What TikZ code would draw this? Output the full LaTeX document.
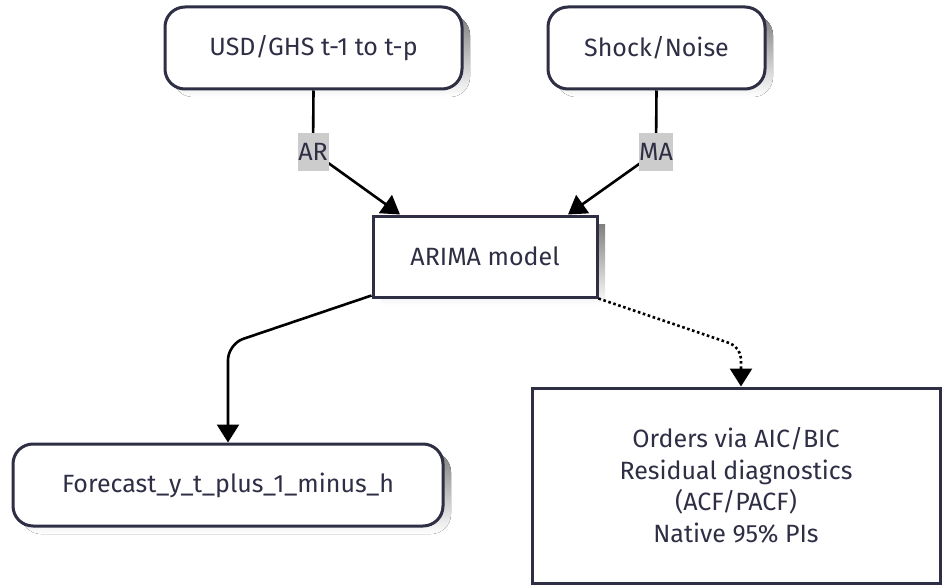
\documentclass[tikz,border=0pt]{standalone}
\usepackage{fontspec}
\setmainfont{Fira Sans}
\usetikzlibrary{arrows.meta}
\definecolor{ink}{HTML}{2E2E45}
\definecolor{shade}{HTML}{EBEBEB}
\definecolor{tag}{HTML}{CCCCCC}
\tikzset{
  base/.style={draw=ink, line width=3pt, fill=white, text=ink,
    font=\fontsize{25}{31.5}\selectfont, align=center, inner sep=0pt},
  roundbox/.style={base, rounded corners=20pt},
  sharpbox/.style={base},
  tagbox/.style={fill=tag, text=ink, font=\fontsize{25}{28}\selectfont,
    inner sep=0pt, minimum width=31pt, minimum height=38pt},
  link/.style={line width=2.6pt, draw=black,
    -{Triangle[length=18pt,width=22pt]}},
  dotlink/.style={link, dash pattern=on 2.6pt off 2.6pt}
}
\begin{document}
\begin{tikzpicture}[x=1pt,y=-1pt]
\useasboundingbox (0,0) rectangle (943,586);

% soft drop shadows behind the boxes
\fill[shade, rounded corners=20pt] (173,15) rectangle (470,97);
\fill[shade, rounded corners=20pt] (556,15) rectangle (773,97);
\fill[shade] (381,224) rectangle (605,305);
\fill[shade, rounded corners=20pt] (21,452) rectangle (451,534);

% source nodes
\node[roundbox, minimum width=297pt, minimum height=82pt] (lags) at (313.5,48) {USD/GHS t-1 to t-p};
\node[roundbox, minimum width=217pt, minimum height=82pt] (shock) at (656.5,48) {Shock/Noise};

% model
\node[sharpbox, minimum width=224pt, minimum height=81pt] (arima) at (485,256.5) {ARIMA model};

% outputs
\node[roundbox, minimum width=430pt, minimum height=82pt] (fc) at (228,485) {Forecast\_y\_t\_plus\_1\_minus\_h};
\node[sharpbox, minimum width=408pt, minimum height=195pt] (diag) at (736,485.5)
  {Orders via AIC/BIC\\Residual diagnostics\\(ACF/PACF)\\Native 95\% PIs};

% bend points of the connectors
\coordinate (arbend) at (313,152);
\coordinate (mabend) at (656,152);
\coordinate (fcbend) at (228,344);
\coordinate (dgbend) at (741,347);

% AR and MA edges
\draw[link] (lags.south) -- (arbend) -- ([xshift=-85pt]arima.north);
\draw[link] (shock.south) -- (mabend) -- ([xshift=83pt]arima.north);
\node[tagbox] (ar) at (arbend) {AR};
\node[tagbox] (ma) at (mabend) {MA};

% forecast edge
\draw[link, rounded corners=16pt] (arima.south west) ++(0,-3) -- (fcbend) -- (fc.north -| fcbend);
% diagnostics edge
\draw[dotlink, rounded corners=12pt] (arima.south east) -- (dgbend) -- (diag.north -| dgbend);
\end{tikzpicture}
\end{document}
